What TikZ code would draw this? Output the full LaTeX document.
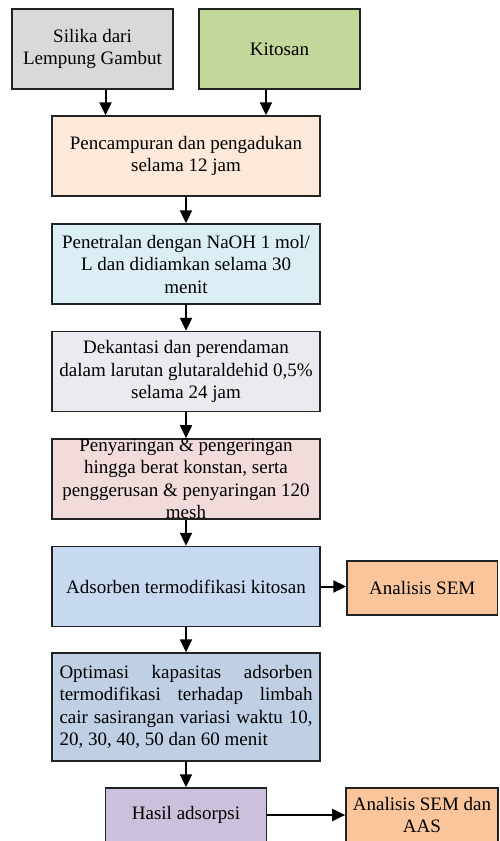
\documentclass[tikz,border=0pt]{standalone}
\usepackage{fontspec}
\setmainfont{Liberation Serif}
\usepackage{tikz}
\usetikzlibrary{arrows.meta}
\definecolor{boxline}{HTML}{222222}
\definecolor{silgray}{HTML}{D9D9D9}
\definecolor{kitgreen}{HTML}{C4D79B}
\definecolor{mixpeach}{HTML}{FDE9D9}
\definecolor{neublue}{HTML}{DAEEF3}
\definecolor{deklav}{HTML}{ECE9F1}
\definecolor{sarrose}{HTML}{F2DCDB}
\definecolor{adsblue}{HTML}{C6D9F1}
\definecolor{optblue}{HTML}{BFD0E4}
\definecolor{haspurp}{HTML}{CCC1DA}
\definecolor{semorange}{HTML}{FAC59B}

\begin{document}
\begin{tikzpicture}[x=0.5pt,y=-0.5pt,
  box/.style={draw=boxline, line width=0.7pt, align=center, inner sep=3.5pt,
    minimum width=134pt, minimum height=40pt,
    font=\fontsize{9.5}{11.25}\selectfont},
  smallbox/.style={box, minimum width=80.5pt},
  arr/.style={line width=1pt, -{Triangle[width=6pt,length=6.5pt]}}]
\useasboundingbox (0,0) rectangle (499,841);
\clip (0,0) rectangle (499,841);
%
\node[smallbox, fill=silgray] (silika) at (92.5,49) {Silika dari\\Lempung Gambut};
\node[smallbox, fill=kitgreen] (kitosan) at (279.5,49) {Kitosan};
%
\node[box, fill=mixpeach] (campur) at (186,156) {Pencampuran dan pengadukan\\selama 12 jam};
\node[box, fill=neublue] (netral) at (186,264) {Penetralan dengan NaOH 1 mol/\\L dan didiamkan selama 30\\menit};
\node[box, fill=deklav] (dekan) at (186,371.5) {Dekantasi dan perendaman\\dalam larutan glutaraldehid 0,5\%\\selama 24 jam};
\node[box, fill=sarrose, inner ysep=0pt] (saring) at (186,479) {Penyaringan \& pengeringan\\hingga berat konstan, serta\\penggerusan \& penyaringan 120\\mesh};
\node[box, fill=adsblue] (adsorben) at (186,586.5) {Adsorben termodifikasi kitosan};
\node[box, fill=optblue, minimum height=54pt, text width=126.5pt, align=justify] (optimasi) at (186,707)
  {Optimasi kapasitas adsorben\linebreak termodifikasi terhadap limbah\linebreak cair sasirangan variasi waktu 10,\linebreak 20, 30, 40, 50 dan 60 menit};
\node[smallbox, fill=haspurp, minimum height=27pt] (hasil) at (186,815) {Hasil adsorpsi};
%
\node[box, fill=semorange, minimum width=75.25pt, minimum height=27pt] (sem) at (422.25,588) {Analisis SEM};
\node[box, fill=semorange, minimum width=75.5pt, minimum height=27pt] (semaas) at (422,815) {Analisis SEM dan\\AAS};
%
\draw[arr] ([xshift=6.5pt]silika.south) -- ([xshift=6.5pt]silika.south |- campur.north);
\draw[arr] ([xshift=-6.75pt]kitosan.south) -- ([xshift=-6.75pt]kitosan.south |- campur.north);
\draw[arr] (campur) -- (netral);
\draw[arr] (netral) -- (dekan);
\draw[arr] (dekan) -- (saring);
\draw[arr] (saring.south) -- (adsorben.north);
\draw[arr] (adsorben) -- (optimasi);
\draw[arr] (optimasi) -- (hasil);
%
\draw[arr] (adsorben.east) -- (adsorben.east -| sem.west);
\draw[arr] (hasil.east) -- (hasil.east -| semaas.west);
\end{tikzpicture}
\end{document}
